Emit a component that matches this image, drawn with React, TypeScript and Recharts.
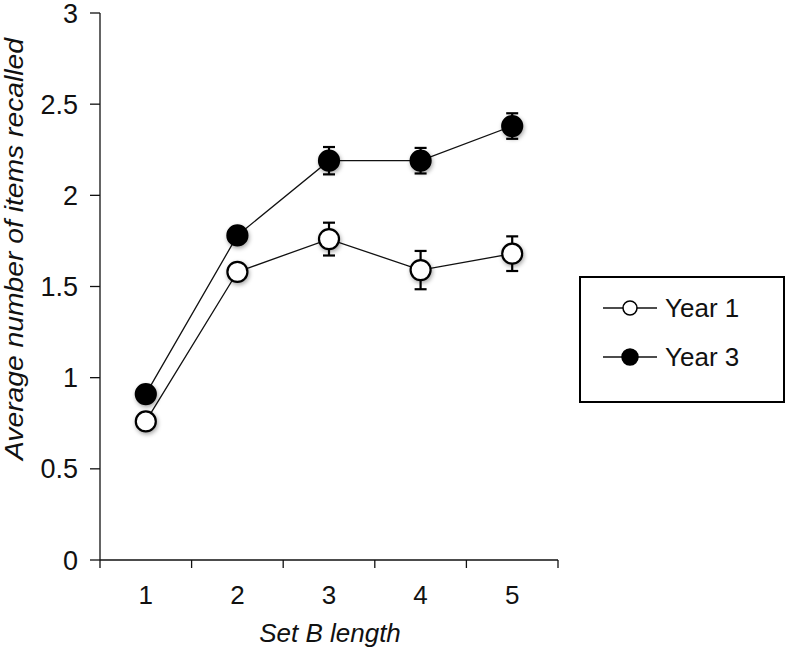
import React from 'react';
import { LineChart, Line, XAxis, YAxis, ErrorBar, Legend } from 'recharts';

const setLengths = [1, 2, 3, 4, 5];
const year1 = [0.76, 1.58, 1.76, 1.59, 1.68];
const year1Err = [0.03, 0.03, 0.09, 0.105, 0.095];
const year3 = [0.91, 1.78, 2.19, 2.19, 2.38];
const year3Err = [0.03, 0.03, 0.075, 0.07, 0.07];
const yTicks = [0, 0.5, 1, 1.5, 2, 2.5, 3];
const xTicks = [0.5, 1, 1.5, 2, 2.5, 3, 3.5, 4, 4.5, 5, 5.5];

const FONT = '"Liberation Sans", Arial, sans-serif';
const INK = '#111';

const data = setLengths.map((len, i) => ({
  len,
  y1: year1[i],
  e1: year1Err[i],
  y3: year3[i],
  e3: year3Err[i],
}));

const seriesFill: Record<string, string> = {
  'Year 1': '#fff',
  'Year 3': '#000',
};

const Marker = (fill: string) => (props: any) => {
  const { cx, cy, index } = props;
  if (cx == null || cy == null) return null;
  return (
    <circle
      key={index}
      cx={cx}
      cy={cy}
      r={10}
      fill={fill}
      stroke="#000"
      strokeWidth={2.2}
      style={{ filter: 'drop-shadow(1px 2px 2px rgba(0,0,0,0.35))' }}
    />
  );
};

// boundaries get a tick mark, whole numbers get a label
const XTick = (props: any) => {
  const { x, y, payload } = props;
  const v = payload.value;
  if (v % 1 !== 0) {
    return <line x1={x} x2={x} y1={y} y2={y + 8} stroke={INK} strokeWidth={1.3} />;
  }
  return (
    <text x={x} y={y + 26} dy="0.71em" textAnchor="middle" fontSize={26} fontFamily={FONT} fill={INK}>
      {v}
    </text>
  );
};

const YTick = (props: any) => {
  const { x, y, payload } = props;
  return (
    <text x={x - 12} y={y} dy="0.355em" textAnchor="end" fontSize={27} fontFamily={FONT} fill={INK}>
      {payload.value}
    </text>
  );
};

const LegendBox = (props: any) => {
  const { payload = [] } = props;
  return (
    <div style={{ width: 206, height: 127, border: '2px solid #000', boxSizing: 'border-box', background: '#fff' }}>
      <svg width={202} height={123}>
        {payload.map((p: any, i: number) => {
          const cy = 30 + i * 49;
          const fill = seriesFill[p.value];
          return (
            <g key={p.value}>
              <line x1={22} x2={76} y1={cy} y2={cy} stroke={INK} strokeWidth={1.3} />
              <circle cx={49} cy={cy} r={fill === '#000' ? 8 : 7} fill={fill} stroke="#000" strokeWidth={1.5} />
              <text x={84} y={cy} dy="0.355em" fontSize={26} fontFamily={FONT} fill={INK}>
                {p.value}
              </text>
            </g>
          );
        })}
      </svg>
    </div>
  );
};

export default function App() {
  return (
    <div style={{ position: 'absolute', left: 0, top: 0, background: '#fff' }}>
      <LineChart width={788} height={650} data={data} margin={{ top: 13, right: 230, bottom: 0, left: 0 }}>
        <XAxis
          dataKey="len"
          type="number"
          domain={[0.5, 5.5]}
          ticks={xTicks}
          interval={0}
          height={90}
          tickLine={false}
          tickSize={0}
          tickMargin={0}
          tick={<XTick />}
          axisLine={{ stroke: INK, strokeWidth: 1.3 }}
        />
        <YAxis
          type="number"
          domain={[0, 3]}
          ticks={yTicks}
          interval={0}
          width={100}
          tickSize={10}
          tickMargin={0}
          tickLine={{ stroke: INK, strokeWidth: 1.3 }}
          tick={<YTick />}
          axisLine={{ stroke: INK, strokeWidth: 1.3 }}
        />
        <Legend
          layout="vertical"
          align="center"
          verticalAlign="middle"
          content={<LegendBox />}
          wrapperStyle={{ left: 579, top: 276, width: 206, height: 127 }}
        />
        <Line
          dataKey="y1"
          name="Year 1"
          stroke={INK}
          strokeWidth={1.3}
          dot={Marker('#fff')}
          activeDot={false}
          isAnimationActive={false}
        >
          <ErrorBar dataKey="e1" direction="y" width={6} stroke="#000" strokeWidth={2.2} />
        </Line>
        <Line
          dataKey="y3"
          name="Year 3"
          stroke={INK}
          strokeWidth={1.3}
          dot={Marker('#000')}
          activeDot={false}
          isAnimationActive={false}
        >
          <ErrorBar dataKey="e3" direction="y" width={6} stroke="#000" strokeWidth={2.2} />
        </Line>
        <text
          x={23}
          y={249}
          transform="rotate(-90, 23, 249)"
          textAnchor="middle"
          fontSize={25}
          fontStyle="italic"
          fontFamily={FONT}
          fill={INK}
          textLength={422}
          lengthAdjust="spacingAndGlyphs"
        >
          Average number of items recalled
        </text>
        <text x={330} y={642} textAnchor="middle" fontSize={26} fontStyle="italic" fontFamily={FONT} fill={INK}>
          Set B length
        </text>
      </LineChart>
    </div>
  );
}
